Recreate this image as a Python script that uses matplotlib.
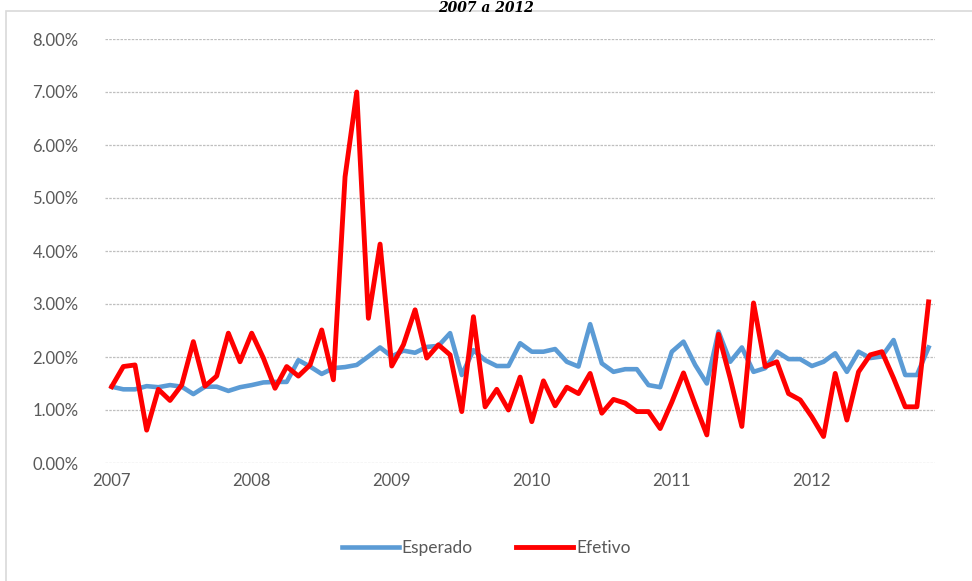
import matplotlib
matplotlib.use("Agg")
import matplotlib.pyplot as plt
from matplotlib.lines import Line2D
from matplotlib.patches import Rectangle

years = ["2007", "2008", "2009", "2010", "2011", "2012"]
title_text = "2007 a 2012"
series_names = ["Esperado", "Efetivo"]

esperado = [1.44, 1.39, 1.39, 1.45, 1.43, 1.47, 1.44, 1.30, 1.44, 1.44, 1.36, 1.43,
            1.47, 1.52, 1.53, 1.53, 1.94, 1.82, 1.68, 1.79, 1.81, 1.85, 2.01, 2.18,
            2.01, 2.12, 2.08, 2.19, 2.21, 2.45, 1.66, 2.13, 1.94, 1.83, 1.83, 2.26,
            2.10, 2.10, 2.15, 1.91, 1.82, 2.62, 1.88, 1.72, 1.77, 1.77, 1.47, 1.43,
            2.10, 2.29, 1.85, 1.50, 2.48, 1.91, 2.18, 1.72, 1.79, 2.10, 1.96, 1.96,
            1.83, 1.91, 2.07, 1.72, 2.10, 1.98, 2.01, 2.32, 1.66, 1.66, 2.18]

efetivo = [1.44, 1.82, 1.85, 0.62, 1.39, 1.18, 1.47, 2.29, 1.45, 1.64, 2.45, 1.91,
           2.45, 1.98, 1.41, 1.82, 1.64, 1.85, 2.51, 1.57, 5.40, 7.00, 2.73, 4.13,
           1.83, 2.23, 2.89, 1.98, 2.23, 2.04, 0.97, 2.76, 1.06, 1.39, 1.00, 1.62,
           0.78, 1.55, 1.08, 1.43, 1.31, 1.69, 0.94, 1.20, 1.13, 0.97, 0.97, 0.65,
           1.15, 1.70, 1.10, 0.53, 2.43, 1.60, 0.69, 3.02, 1.82, 1.91, 1.31, 1.19,
           0.87, 0.50, 1.69, 0.81, 1.72, 2.04, 2.10, 1.60, 1.06, 1.06, 3.04]

blue = "#5B9BD5"
red = "#FF0000"
txt = "#595959"
font = "Lato"

fig = plt.figure(figsize=(9.72, 5.81), dpi=100)
fig.patch.set_facecolor("white")

# chart border (light gray, partially visible)
fig.add_artist(Rectangle((6/972, -0.05), 1.1, 1 - 11/581 + 0.05, transform=fig.transFigure,
                         fill=False, edgecolor="#d9d9d9", linewidth=1.2))

fig.text(0.5, 0.999, title_text, ha="center", va="top", fontsize=10,
         family="DejaVu Serif", style="italic", fontweight="bold", color="#000000")

ax = fig.add_axes([105/972, 1 - 463/581, (935 - 105)/972, (463 - 39)/581])
x = list(range(len(esperado)))
ax.plot(x, esperado, color=blue, lw=3.3, solid_joinstyle="round", zorder=3)
ax.plot(x, efetivo, color=red, lw=3.5, solid_joinstyle="round", zorder=4)

ax.set_xlim(-0.57, 70.55)
ax.set_ylim(0, 8)
ax.set_yticks(range(0, 9))
ax.set_yticklabels([f"{v:.2f}%" for v in range(0, 9)])
ax.set_xticks([12 * i for i in range(len(years))])
ax.set_xticklabels(years)
for lab in ax.get_yticklabels() + ax.get_xticklabels():
    lab.set_fontsize(12)
    lab.set_family(font)
    lab.set_color(txt)
ax.tick_params(axis="both", length=0)
ax.tick_params(axis="y", pad=19)
ax.tick_params(axis="x", pad=7)
for s in ax.spines.values():
    s.set_visible(False)
ax.grid(axis="y", color="#bfbfbf", linestyle=(0, (2, 1)), linewidth=0.9)
ax.set_axisbelow(True)

handles = [Line2D([], [], color=blue, lw=3.3), Line2D([], [], color=red, lw=3.5)]
leg = fig.legend(handles, series_names, loc="center", bbox_to_anchor=(0.5, 1 - 548/581),
                 ncol=2, frameon=False, handlelength=3.3, handletextpad=0.15,
                 columnspacing=2.5, prop={"family": font, "size": 12.5})
for t in leg.get_texts():
    t.set_color(txt)

fig.savefig("out.png", dpi=100, facecolor="white")
